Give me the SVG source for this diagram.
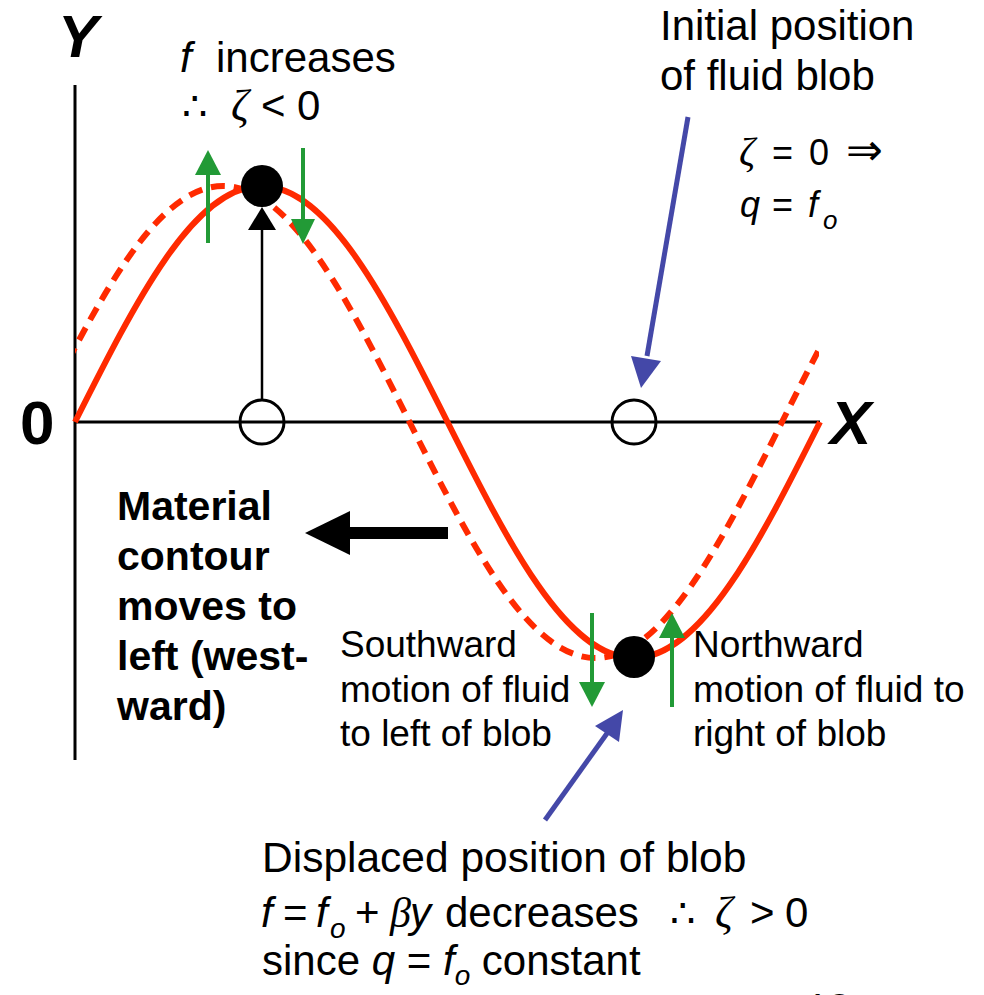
<svg xmlns="http://www.w3.org/2000/svg" width="984" height="995" viewBox="0 0 984 995">
  <style>
    .sans { font-family: "Liberation Sans", Arial, sans-serif; fill: #000; }
    .serif { font-family: "Liberation Serif", "Times New Roman", serif; fill: #000; }
    .sym { font-family: "DejaVu Sans", sans-serif; fill: #000; }
    .it { font-style: italic; }
    .bold { font-weight: bold; }
    .axis { stroke: #000; stroke-width: 3; fill: none; }
    .wave { stroke: #FF2A00; stroke-width: 6; fill: none; }
    .dash { stroke-dasharray: 14 9; }
    .green { stroke: #229A36; stroke-width: 4; fill: none; }
    .greenhead { fill: #229A36; }
    .blue { stroke: #4448A8; stroke-width: 5; fill: none; }
    .bluehead { fill: #4448A8; }
    .hollow { stroke: #000; stroke-width: 3; fill: none; }
  </style>
  <defs>
    <clipPath id="plotClip">
      <rect x="75" y="0" width="744" height="995"/>
    </clipPath>
  </defs>
  <rect x="0" y="0" width="984" height="995" fill="#fff"/>

  <g id="axes">
    <line class="axis" x1="75" y1="85" x2="75" y2="760"/>
    <line class="axis" x1="75" y1="422" x2="820" y2="422"/>
    <text class="sans bold it" x="58" y="57" font-size="60">Y</text>
    <text class="sans bold" x="20" y="444" font-size="62">0</text>
    <text class="sans bold it" x="830" y="444" font-size="62">X</text>
  </g>

  <g id="curves">
    <path id="displaced-contour" class="wave dash" clip-path="url(#plotClip)" d="M37,422 c60.74,-120.9 118.84,-236 186.25,-236 c67.41,0 125.51,115.1 186.25,236 c60.74,120.9 118.84,236 186.25,236 c67.41,0 125.51,-115.1 186.25,-236 c60.74,-120.9 118.84,-236 186.25,-236"/>
    <path id="initial-contour" class="wave" d="M75,422 c60.74,-120.9 118.84,-236 186.25,-236 c67.41,0 125.51,115.1 186.25,236 c60.74,120.9 118.84,236 186.25,236 c67.41,0 125.51,-115.1 186.25,-236"/>
  </g>

  <g id="connectors">
    <g id="blob-displacement-arrow">
      <line x1="262" y1="400" x2="262" y2="228" stroke="#000" stroke-width="2.5"/>
      <polygon points="262,207 248,230 276,230" fill="#000"/>
    </g>
    <g id="green-up-left">
      <line class="green" x1="208" y1="243" x2="208" y2="172"/>
      <polygon class="greenhead" points="208,150 195,175 221,175"/>
    </g>
    <g id="green-down-right">
      <line class="green" x1="303" y1="148" x2="303" y2="222"/>
      <polygon class="greenhead" points="303,244 291,219 315,219"/>
    </g>
    <g id="green-south">
      <line class="green" x1="592" y1="613" x2="592" y2="686"/>
      <polygon class="greenhead" points="592,707 579,682 605,682"/>
    </g>
    <g id="green-north">
      <line class="green" x1="672" y1="707" x2="672" y2="635"/>
      <polygon class="greenhead" points="672,613 659,638 685,638"/>
    </g>
    <g id="westward-arrow">
      <line x1="448" y1="533" x2="345" y2="533" stroke="#000" stroke-width="12"/>
      <polygon points="305,533 350,511 350,555" fill="#000"/>
    </g>
    <g id="initial-pointer">
      <line class="blue" x1="688" y1="117" x2="647" y2="356"/>
      <polygon class="bluehead" points="641,388 631,356 661,361"/>
    </g>
    <g id="displaced-pointer">
      <line class="blue" x1="545" y1="820" x2="608" y2="732"/>
      <polygon class="bluehead" points="623,710 595,726 619,742"/>
    </g>
  </g>

  <g id="node-initial-top">
    <circle class="hollow" cx="262" cy="422" r="22"/>
  </g>
  <g id="node-initial-bottom">
    <circle class="hollow" cx="634" cy="422" r="22"/>
  </g>
  <g id="node-blob-top">
    <circle cx="262" cy="186" r="21" fill="#000"/>
  </g>
  <g id="node-blob-bottom">
    <circle cx="634" cy="657" r="21" fill="#000"/>
  </g>

  <g id="label-f-increases">
    <text class="sans it" font-size="42" x="180" y="72">f</text>
    <text class="sans" font-size="42" x="216" y="72">increases</text>
    <text class="serif" font-size="40" x="182" y="120">∴</text>
    <text class="serif it" font-size="44" x="231" y="120">ζ</text>
    <text class="sans" font-size="42" x="261" y="120">&lt;</text>
    <text class="sans" font-size="42" x="297" y="120">0</text>
  </g>

  <g id="label-initial">
    <text class="sans" font-size="42" x="660" y="40">Initial position</text>
    <text class="sans" font-size="42" x="660" y="90">of fluid blob</text>
    <text class="serif it" font-size="40" x="739" y="165">ζ</text>
    <text class="sans" font-size="36" x="772" y="165">=</text>
    <text class="sans" font-size="36" x="809" y="165">0</text>
    <text class="sym" font-size="44" x="846" y="165">⇒</text>
    <text class="sans it" font-size="36" x="740" y="217">q</text>
    <text class="sans" font-size="36" x="772" y="217">=</text>
    <text class="sans it" font-size="36" x="808" y="217">f</text>
    <text class="sans it" font-size="26" x="823" y="229">o</text>
  </g>

  <g id="label-material">
    <text class="sans bold" font-size="41" x="117" y="520">Material</text>
    <text class="sans bold" font-size="41" x="117" y="570">contour</text>
    <text class="sans bold" font-size="41" x="117" y="620">moves to</text>
    <text class="sans bold" font-size="41" x="117" y="670">left (west-</text>
    <text class="sans bold" font-size="41" x="117" y="720">ward)</text>
  </g>

  <g id="label-southward">
    <text class="sans" font-size="37" x="340" y="657">Southward</text>
    <text class="sans" font-size="37" x="340" y="702">motion of fluid</text>
    <text class="sans" font-size="37" x="340" y="746">to left of blob</text>
  </g>

  <g id="label-northward">
    <text class="sans" font-size="37" x="693" y="657">Northward</text>
    <text class="sans" font-size="37" x="693" y="702">motion of fluid to</text>
    <text class="sans" font-size="37" x="693" y="746">right of blob</text>
  </g>

  <g id="label-displaced">
    <text class="sans" font-size="42.5" x="262" y="872">Displaced position of blob</text>
    <text class="sans it" font-size="42" x="261" y="927">f</text>
    <text class="sans" font-size="42" x="283" y="927">=</text>
    <text class="sans it" font-size="42" x="316" y="927">f</text>
    <text class="sans it" font-size="28" x="330" y="938">o</text>
    <text class="sans" font-size="42" x="355" y="927">+</text>
    <text class="serif it" font-size="42" x="390" y="927">β</text>
    <text class="sans it" font-size="42" x="410" y="927">y</text>
    <text class="sans" font-size="42" x="445" y="927">decreases</text>
    <text class="serif" font-size="40" x="670" y="927">∴</text>
    <text class="serif it" font-size="44" x="715" y="927">ζ</text>
    <text class="sans" font-size="42" x="750" y="927">&gt;</text>
    <text class="sans" font-size="42" x="785" y="927">0</text>
    <text class="sans" font-size="42" x="262" y="975">since <tspan class="it">q</tspan> = <tspan class="it">f</tspan><tspan class="it" font-size="28" dy="10">o</tspan><tspan dy="-10"> constant</tspan></text>
  </g>

  <g id="page-number">
    <text class="sans" font-size="40" x="806" y="1022">13</text>
  </g>
</svg>
